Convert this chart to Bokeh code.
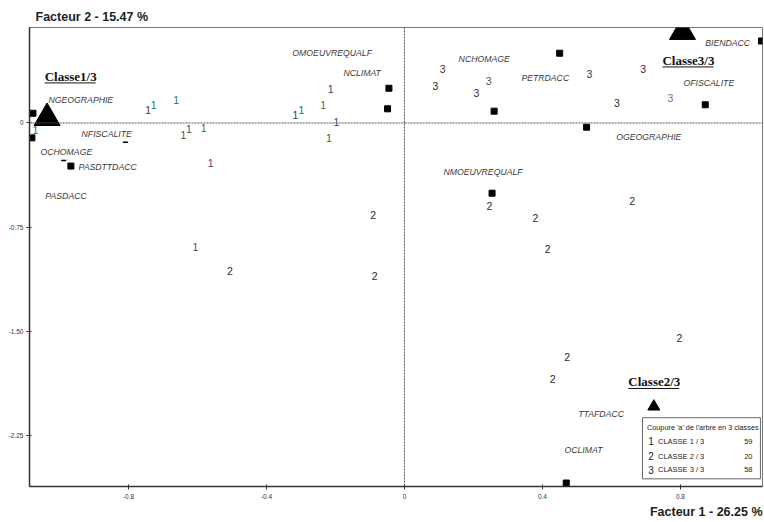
from bokeh.plotting import figure
from bokeh.models import FixedTicker, Span, Title, Range1d
from bokeh.core.properties import value
from bokeh.embed import file_html
from bokeh.resources import INLINE

# ---------------- data ----------------
x_ticks = [-0.8, -0.4, 0.0, 0.4, 0.8]
x_tick_labels = ["-0.8", "-0.4", "0", "0.4", "0.8"]
y_ticks = [-2.25, -1.50, -0.75, 0.0]
y_tick_labels = ["-2.25", "-1.50", "-0.75", "0"]

# individuals, class 1
class1_x = [-1.070, -0.743, -0.727, -0.662, -0.641, -0.625, -0.582, -0.562,
            -0.606, -0.316, -0.299, -0.236, -0.214, -0.197, -0.219]
class1_y = [-0.047, 0.090, 0.126, 0.169, -0.085, -0.042, -0.037, -0.289,
            -0.893, 0.059, 0.095, 0.133, 0.246, 0.006, -0.109]
# individuals, class 2
class2_x = [-0.506, -0.091, -0.086, 0.246, 0.380, 0.660, 0.415, 0.797, 0.472, 0.430]
class2_y = [-1.066, -0.665, -1.104, -0.598, -0.682, -0.562, -0.910, -1.545, -1.685, -1.840]
# individuals, class 3
class3_x = [0.111, 0.090, 0.244, 0.209, 0.536, 0.692, 0.616, 0.771]
class3_y = [0.385, 0.265, 0.300, 0.214, 0.354, 0.385, 0.145, 0.178]

# active modalities (squares)
mod_x = [-1.077, -1.080, -0.967, -0.045, -0.049, 0.260, 0.254, 0.450, 0.528, 0.872, 1.035, 0.469]
mod_y = [0.070, -0.107, -0.310, 0.250, 0.102, 0.085, -0.505, 0.502, -0.030, 0.131, 0.590, -2.590]
# small modalities (dashes)
small_mod_x = [-0.809, -0.988]
small_mod_y = [-0.138, -0.270]

# modality labels
mod_names = ["NGEOGRAPHIE", "NFISCALITE", "OCHOMAGE", "PASDTTDACC", "PASDACC",
             "OMOEUVREQUALF", "NCLIMAT", "NCHOMAGE", "NMOEUVREQUALF", "PETRDACC",
             "BIENDACC", "OFISCALITE", "OGEOGRAPHIE", "TTAFDACC", "OCLIMAT"]
mod_label_x = [-1.032, -0.936, -1.055, -0.945, -1.041, -0.325, -0.177, 0.157, 0.113, 0.339,
               0.872, 0.809, 0.614, 0.504, 0.464]
mod_label_y = [0.169, -0.076, -0.212, -0.313, -0.522, 0.507, 0.363, 0.457, -0.356, 0.327,
               0.572, 0.291, -0.104, -2.090, -2.356]

# class centroids
class_names = ["Classe1/3", "Classe2/3", "Classe3/3"]
class_x = [-1.036, 0.723, 0.806]
class_y = [0.036, -2.040, 0.655]
class_label_x = [-1.043, 0.649, 0.748]
class_label_y = [0.335, -1.863, 0.450]

# legend content
legend_title = "Coupure 'a' de l'arbre en  3 classes"
legend_ids = ["1", "2", "3"]
legend_classes = ["CLASSE  1 / 3", "CLASSE  2 / 3", "CLASSE  3 / 3"]
legend_counts = ["59", "20", "58"]

# ---------------- styles ----------------
class1_colors = ["#2f6b5e", "#4a3a2a", "#2b6f66", "#2f6f5a", "#6b4a22", "#2a5a5a",
                 "#555a6a", "#5a3a6a", "#5a4a4a", "#3a3a2a", "#2f6b5e", "#3f6a4a",
                 "#3a3a7a", "#4a3a7a", "#2f5f4a"]
class3_colors = ["#4a3a1a", "#3a1a1a", "#555555", "#333333", "#2a2a6a", "#5a1a3a",
                 "#1a2a5a", "#777777"]
tri_sizes = [26, 12, 26]

SANS = "Liberation Sans"

p = figure(width=764, height=522, output_backend="svg", toolbar_location=None,
           x_range=Range1d(-1.087, 1.038), y_range=Range1d(-2.615, 0.687),
           frame_width=733, frame_height=459,
           min_border_left=29, min_border_right=2, min_border_top=27, min_border_bottom=36)
p.background_fill_color = "white"
p.border_fill_color = "white"
p.outline_line_color = "#777777"
p.outline_line_width = 1
p.xgrid.visible = False
p.ygrid.visible = False

p.title.text = "Facteur 2 - 15.47 %"
p.title.text_font = SANS
p.title.text_font_size = "12.5px"
p.title.text_font_style = "bold"
p.title.text_color = "#222222"
p.title.align = "left"
p.title.offset = 6
p.title.standoff = 7

bt = Title(text="Facteur 1 - 26.25 %", align="right", text_font=SANS,
           text_font_size="12.5px", text_font_style="bold", text_color="#222222",
           standoff=2)
p.add_layout(bt, "below")

for ax in (p.xaxis[0], p.yaxis[0]):
    ax.major_label_text_font = SANS
    ax.major_label_text_font_size = "6.5px"
    ax.major_label_text_color = "#333333"
    ax.minor_tick_line_color = None
    ax.major_tick_in = 2
    ax.major_tick_out = 3
    ax.axis_line_color = "#333333"
    ax.axis_line_width = 1.5
    ax.major_tick_line_color = "#333333"
    ax.major_label_standoff = 4

p.xaxis.ticker = FixedTicker(ticks=x_ticks)
p.xaxis.major_label_overrides = {t: l for t, l in zip(x_ticks, x_tick_labels)}
p.yaxis.ticker = FixedTicker(ticks=y_ticks)
p.yaxis.major_label_overrides = {t: l for t, l in zip(y_ticks, y_tick_labels)}
p.yaxis.major_label_standoff = 3

# zero lines
p.add_layout(Span(location=0, dimension="height", line_color="#555555",
                  line_dash="2 1", line_width=1))
p.add_layout(Span(location=0, dimension="width", line_color="#555555",
                  line_dash="2 1", line_width=1))

# modalities
p.scatter(mod_x, mod_y, marker="square", size=6, fill_color="black", line_color="black")
p.scatter(small_mod_x, small_mod_y, marker="dash", size=5, line_color="black", line_width=1.5)

p.text(mod_label_x, mod_label_y, text=mod_names, text_font=value(SANS),
       text_font_size="8.7px", text_font_style="italic", text_color="#3a3a3a",
       text_align="left", text_baseline="middle")

# individuals
p.text(class1_x, class1_y, text=["1"] * len(class1_x), text_font=value(SANS),
       text_font_size="10.5px", text_color=class1_colors,
       text_align="center", text_baseline="middle")
p.text(class2_x, class2_y, text=["2"] * len(class2_x), text_font=value(SANS),
       text_font_size="10.5px", text_color="#2a2a2a",
       text_align="center", text_baseline="middle")
p.text(class3_x, class3_y, text=["3"] * len(class3_x), text_font=value(SANS),
       text_font_size="10.5px", text_color=class3_colors,
       text_align="center", text_baseline="middle")

# class centroids
p.scatter(class_x, class_y, marker="triangle", size=tri_sizes,
          fill_color="black", line_color="black")
p.text(class_label_x, class_label_y, text=class_names, text_font=value("Liberation Serif"),
       text_font_size="13px", text_font_style="bold", text_color="#111111",
       text_align="left", text_baseline="middle")
ul_w = 51 / 345.0
ul_dy = 6.5 / 139.0
p.segment(x0=class_label_x, y0=[y - ul_dy for y in class_label_y],
          x1=[x + ul_w for x in class_label_x], y1=[y - ul_dy for y in class_label_y],
          line_color="#111111", line_width=1)

# legend box (manual)
lx0, lx1 = 0.690, 1.032
ly0, ly1 = -2.560, -2.120
p.quad(left=[lx0], right=[lx1], bottom=[ly0], top=[ly1], fill_color="white",
       line_color="#666666", line_width=1)
p.text([0.703], [-2.190], text=[legend_title], text_font=value(SANS),
       text_font_size="7.3px", text_color="#222222", text_align="left", text_baseline="middle")
row_y = [-2.291, -2.396, -2.493]
p.text([0.715] * 3, row_y, text=legend_ids, text_font=value(SANS),
       text_font_size="10px", text_color="#222222", text_align="center", text_baseline="middle")
p.text([0.735] * 3, row_y, text=legend_classes, text_font=value(SANS),
       text_font_size="7.5px", text_color="#222222", text_align="left", text_baseline="middle")
p.text([1.009] * 3, row_y, text=legend_counts, text_font=value(SANS),
       text_font_size="7.5px", text_color="#222222", text_align="right", text_baseline="middle")

open("out.html", "w").write(file_html(p, INLINE))
